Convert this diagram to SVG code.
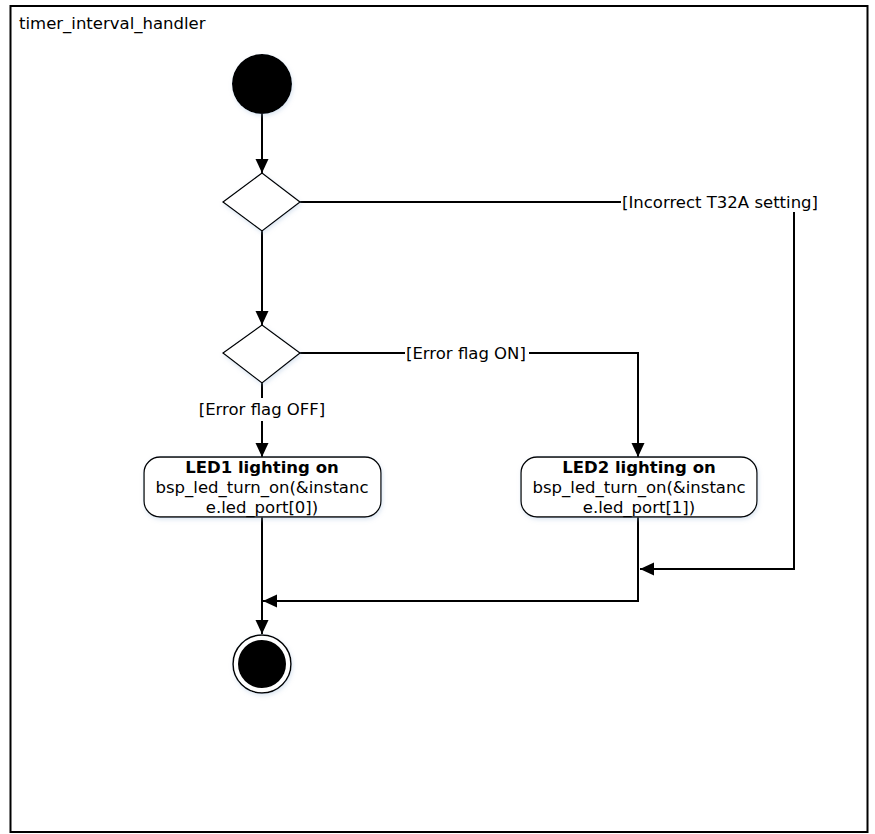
<svg xmlns="http://www.w3.org/2000/svg" width="875" height="834" viewBox="0 0 875 834">
  <style>
    text { font-family: "DejaVu Sans", Verdana, "Liberation Sans", sans-serif; font-size: 16.5px; fill: #000; }
    .bold { font-weight: bold; }
    .mid { text-anchor: middle; }
    .conn { fill: none; stroke: #000; stroke-width: 2; }
    .node { fill: #fff; stroke: #000; stroke-width: 1.3; }
    .shadow { filter: url(#glow); }
  </style>
  <defs>
    <marker id="arrow" markerUnits="userSpaceOnUse" markerWidth="15" markerHeight="14" refX="14" refY="6.5" orient="auto">
      <path d="M0,0 L14,6.5 L0,13 z" fill="#000"/>
    </marker>
    <filter id="glow" x="-20%" y="-20%" width="140%" height="140%">
      <feGaussianBlur in="SourceAlpha" stdDeviation="2"/>
      <feOffset dx="1" dy="2" result="b"/>
      <feFlood flood-color="#9bb7d6" flood-opacity="0.35"/>
      <feComposite in2="b" operator="in"/>
      <feMerge><feMergeNode/><feMergeNode in="SourceGraphic"/></feMerge>
    </filter>
  </defs>
  <rect width="875" height="834" fill="#fff"/>

  <g id="frame">
    <rect x="10.5" y="6" width="857" height="826" fill="#fff" stroke="#000" stroke-width="2"/>
    <text x="19" y="29">timer_interval_handler</text>
  </g>

  <g id="connectors">
    <line class="conn" x1="262" y1="114" x2="262" y2="173" marker-end="url(#arrow)"/>
    <line class="conn" x1="262" y1="231" x2="262" y2="325" marker-end="url(#arrow)"/>
    <path class="conn" d="M300,202 H621"/>
    <path class="conn" d="M794,212 V569 H640" marker-end="url(#arrow)"/>
    <path class="conn" d="M300,353 H405"/>
    <path class="conn" d="M529,353 H638 V457" marker-end="url(#arrow)"/>
    <path class="conn" d="M262,383 V398"/>
    <path class="conn" d="M262,421 V457" marker-end="url(#arrow)"/>
    <path class="conn" d="M262,517 V634" marker-end="url(#arrow)"/>
    <path class="conn" d="M638,517 V601 H263" marker-end="url(#arrow)"/>
    <text x="622" y="208">[Incorrect T32A setting]</text>
    <text x="406" y="359">[Error flag ON]</text>
    <text class="mid" x="262" y="415">[Error flag OFF]</text>
  </g>

  <g id="start">
    <circle class="shadow" cx="262" cy="84" r="30" fill="#000"/>
  </g>

  <g id="decision1">
    <polygon class="node shadow" points="262,173 300,202 262,231 223,202"/>
  </g>

  <g id="decision2">
    <polygon class="node shadow" points="262,325 300,353 262,383 223,353"/>
  </g>

  <g id="led1">
    <rect class="node shadow" x="144" y="457" width="237" height="60" rx="16" ry="16" stroke-width="1.5"/>
    <text class="mid bold" x="262" y="473">LED1 lighting on</text>
    <text class="mid" x="262" y="493">bsp_led_turn_on(&amp;instanc</text>
    <text class="mid" x="262" y="513">e.led_port[0])</text>
  </g>

  <g id="led2">
    <rect class="node shadow" x="521" y="457" width="236" height="60" rx="16" ry="16" stroke-width="1.5"/>
    <text class="mid bold" x="639" y="473">LED2 lighting on</text>
    <text class="mid" x="639" y="493">bsp_led_turn_on(&amp;instanc</text>
    <text class="mid" x="639" y="513">e.led_port[1])</text>
  </g>

  <g id="end">
    <circle class="shadow" cx="262" cy="664" r="29" fill="#fff" stroke="#000" stroke-width="1.5"/>
    <circle cx="262" cy="664" r="24" fill="#000"/>
  </g>
</svg>
